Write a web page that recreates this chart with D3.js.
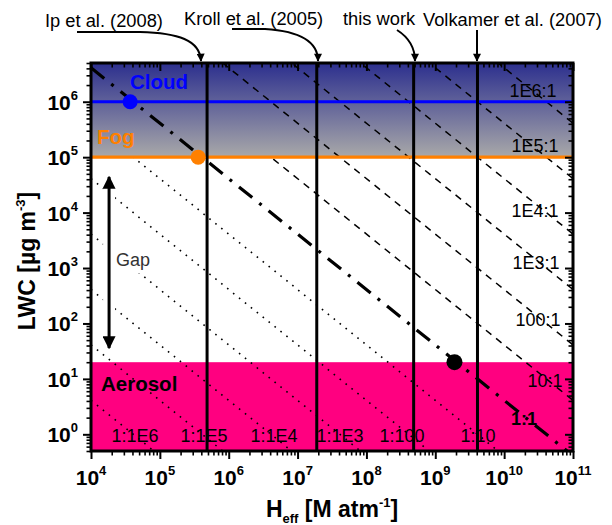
<!DOCTYPE html>
<html>
<head>
<meta charset="utf-8">
<script src="https://cdn.jsdelivr.net/npm/d3@7"></script>
<style>
  body { margin: 0; background: #fff; }
  svg { display: block; font-family: "Liberation Sans", Arial, sans-serif; }
</style>
</head>
<body>
<svg id="chart" width="612" height="525"></svg>
<script>
// Liquid water content vs. effective Henry's law constant, with iso-partitioning lines

const hRange = [1e4, 1e11];
const lwcRange = [0.5, 5e6];
const xMajor = [1e4, 1e5, 1e6, 1e7, 1e8, 1e9, 1e10, 1e11];
const xExponents = ["4", "5", "6", "7", "8", "9", "10", "11"];
const yMajor = [1, 10, 100, 1e3, 1e4, 1e5, 1e6];
const yExponents = ["0", "1", "2", "3", "4", "5", "6"];

// H_eff x LWC product at which the aqueous and gas phase hold equal amounts (1:1)
const unityProduct = 4.1e10;
const aqRatios = [1e6, 1e5, 1e4, 1e3, 100, 10];          // aqueous : gas > 1
const aqRatioLabels = ["1E6:1", "1E5:1", "1E4:1", "1E3:1", "100:1", "10:1"];
const gasRatios = [1e-6, 1e-5, 1e-4, 1e-3, 1e-2, 1e-1];  // aqueous : gas < 1
const gasRatioLabels = ["1:1E6", "1:1E5", "1:1E4", "1:1E3", "1:100", "1:10"];

const studies = ["Ip et al. (2008)", "Kroll et al. (2005)", "this work", "Volkamer et al. (2007)"];
const studyHeff = [4.85e5, 1.9e7, 4.85e8, 4.1e9];

const regimes = ["Cloud", "Fog", "Aerosol"];
const regimeLWC = [1e6, 1e5, 20];
const regimeHeff = [3.7e4, 3.6e5, 1.9e9];
const gapLWC = [4.4e4, 36];
const gapHeff = 1.83e4;

// ---- layout ----
const W = 612, H = 525;
const plot = { left: 91, right: 573, top: 63, bottom: 451 };
const svg = d3.select("#chart");

const x = d3.scaleLog().domain(hRange).range([plot.left, plot.right]);
const y = d3.scaleLog().domain(lwcRange).range([plot.bottom, plot.top]);

const defs = svg.append("defs");
const grad = defs.append("linearGradient")
  .attr("id", "cloudFog").attr("x1", 0).attr("y1", 0).attr("x2", 0).attr("y2", 1);
grad.append("stop").attr("offset", "0%").attr("stop-color", "#2c2f8e");
grad.append("stop").attr("offset", "100%").attr("stop-color", "#a9a9a9");

defs.append("clipPath").attr("id", "plotClip")
  .append("rect")
  .attr("x", plot.left).attr("y", plot.top)
  .attr("width", plot.right - plot.left).attr("height", plot.bottom - plot.top);

function arrowMarker(id, w, h) {
  defs.append("marker")
    .attr("id", id)
    .attr("viewBox", "0 0 10 10")
    .attr("refX", 9).attr("refY", 5)
    .attr("markerUnits", "userSpaceOnUse")
    .attr("markerWidth", w).attr("markerHeight", h)
    .attr("orient", "auto-start-reverse")
    .append("path").attr("d", "M0,0 L10,5 L0,10 Z").attr("fill", "#000");
}
arrowMarker("tip", 9, 8);
arrowMarker("gapTip", 13, 13);

const plotG = svg.append("g").attr("clip-path", "url(#plotClip)");

// aerosol regime
plotG.append("rect")
  .attr("x", plot.left).attr("width", plot.right - plot.left)
  .attr("y", y(regimeLWC[2])).attr("height", y(lwcRange[0]) - y(regimeLWC[2]))
  .attr("fill", "#ff0080");

const isoLine = d3.line().x(d => x(d[0])).y(d => y(d[1]));
const isoPoints = r => hRange.map(h => [h, r * unityProduct / h]);

const dashStyle = { stroke: "#000", width: 1.5, dash: "7,6" };
const dotStyle = { stroke: "#000", width: 1.6, dash: "1.6,6" };

// lines that sit beneath the cloud/fog shading
gasRatios.forEach(r => {
  plotG.append("path").attr("d", isoLine(isoPoints(r)))
    .attr("fill", "none").attr("stroke", dotStyle.stroke)
    .attr("stroke-width", dotStyle.width).attr("stroke-dasharray", dotStyle.dash);
});
plotG.append("path").attr("d", isoLine(isoPoints(aqRatios[5])))
  .attr("fill", "none").attr("stroke", dashStyle.stroke)
  .attr("stroke-width", dashStyle.width).attr("stroke-dasharray", dashStyle.dash);

// cloud + fog shading
plotG.append("rect")
  .attr("x", plot.left).attr("width", plot.right - plot.left)
  .attr("y", y(lwcRange[1])).attr("height", y(regimeLWC[1]) - y(lwcRange[1]))
  .attr("fill", "url(#cloudFog)");

aqRatios.slice(0, 5).forEach(r => {
  plotG.append("path").attr("d", isoLine(isoPoints(r)))
    .attr("fill", "none").attr("stroke", dashStyle.stroke)
    .attr("stroke-width", dashStyle.width).attr("stroke-dasharray", dashStyle.dash);
});

// 1:1 line
plotG.append("path").attr("d", isoLine(isoPoints(1)))
  .attr("fill", "none").attr("stroke", "#000")
  .attr("stroke-width", 3.2).attr("stroke-dasharray", "17,9,3,9");

// cloud and fog LWC levels
plotG.append("line")
  .attr("x1", plot.left).attr("x2", plot.right)
  .attr("y1", y(regimeLWC[0])).attr("y2", y(regimeLWC[0]))
  .attr("stroke", "#0000ff").attr("stroke-width", 3);
plotG.append("line")
  .attr("x1", plot.left).attr("x2", plot.right)
  .attr("y1", y(regimeLWC[1])).attr("y2", y(regimeLWC[1]))
  .attr("stroke", "#ff8000").attr("stroke-width", 3.2);

// H_eff values from the literature
studyHeff.forEach(h => {
  plotG.append("line")
    .attr("x1", x(h)).attr("x2", x(h))
    .attr("y1", plot.top).attr("y2", plot.bottom)
    .attr("stroke", "#000").attr("stroke-width", 3);
});

// regime points on the 1:1 line
const dotColors = ["#0000ff", "#ff8000", "#000"];
regimes.forEach((name, i) => {
  plotG.append("circle")
    .attr("cx", x(regimeHeff[i])).attr("cy", y(regimeLWC[i]))
    .attr("r", i === 2 ? 8 : 7.5).attr("fill", dotColors[i]);
});

// regime names
const labelG = svg.append("g").attr("font-weight", "bold").attr("font-size", 20.5);
labelG.append("text").attr("x", 130).attr("y", 89).attr("fill", "#0000ff").text(regimes[0]);
labelG.append("text").attr("x", 97).attr("y", 144).attr("fill", "#ff8000").text(regimes[1]);
labelG.append("text").attr("x", 101).attr("y", 391).attr("fill", "#000").text(regimes[2]);

// ratio labels
const aqLabelPos = [[533, 97], [535, 152], [535, 217], [536, 269], [538, 326], [545, 387]];
const gasLabelPos = [[135, 442], [204, 442], [274, 442], [340, 442], [402, 442], [478, 442]];
const ratioG = svg.append("g").attr("font-size", 18).attr("fill", "#000").attr("text-anchor", "middle");
aqRatioLabels.forEach((t, i) => {
  ratioG.append("text").attr("x", aqLabelPos[i][0]).attr("y", aqLabelPos[i][1]).text(t);
});
gasRatioLabels.forEach((t, i) => {
  ratioG.append("text").attr("x", gasLabelPos[i][0]).attr("y", gasLabelPos[i][1]).text(t);
});
ratioG.append("text").attr("x", 524).attr("y", 425).attr("font-weight", "bold").text("1:1");

// gap between fog and aerosol
const gx = x(gapHeff);
svg.append("line")
  .attr("x1", gx).attr("x2", gx)
  .attr("y1", y(gapLWC[0]) - 5).attr("y2", y(gapLWC[1]) + 5)
  .attr("stroke", "#fff").attr("stroke-width", 12);
svg.append("rect").attr("x", 113).attr("y", 249).attr("width", 42).attr("height", 24).attr("fill", "#fff");
svg.append("line")
  .attr("x1", gx).attr("x2", gx)
  .attr("y1", y(gapLWC[0])).attr("y2", y(gapLWC[1]))
  .attr("stroke", "#000").attr("stroke-width", 3)
  .attr("marker-start", "url(#gapTip)").attr("marker-end", "url(#gapTip)");
svg.append("text").attr("x", 116).attr("y", 266)
  .attr("font-size", 18).attr("fill", "#333").text("Gap");

// ---- axes ----
const allX = x.ticks().filter(v => v >= hRange[0] && v <= hRange[1]);
const allY = y.ticks().filter(v => v >= lwcRange[0] && v <= lwcRange[1]);
const isMajor = v => Math.abs(Math.log10(v) - Math.round(Math.log10(v))) < 1e-9;
const xMinor = allX.filter(v => !isMajor(v));
const yMinor = allY.filter(v => !isMajor(v));

function styleAxis(g, w) {
  g.select(".domain").remove();
  g.selectAll(".tick line").attr("stroke", "#000").attr("stroke-width", w);
}
const axG = svg.append("g");
axG.append("g").attr("transform", `translate(0,${plot.bottom})`)
  .call(d3.axisBottom(x).tickValues(xMajor).tickSize(8).tickFormat("")).call(g => styleAxis(g, 2));
axG.append("g").attr("transform", `translate(0,${plot.bottom})`)
  .call(d3.axisBottom(x).tickValues(xMinor).tickSize(4.5).tickFormat("")).call(g => styleAxis(g, 1.6));
axG.append("g").attr("transform", `translate(0,${plot.top})`)
  .call(d3.axisTop(x).tickValues(xMajor).tickSize(-8).tickFormat("")).call(g => styleAxis(g, 2));
axG.append("g").attr("transform", `translate(0,${plot.top})`)
  .call(d3.axisTop(x).tickValues(xMinor).tickSize(-4.5).tickFormat("")).call(g => styleAxis(g, 1.6));
axG.append("g").attr("transform", `translate(${plot.left},0)`)
  .call(d3.axisLeft(y).tickValues(yMajor).tickSize(8).tickFormat("")).call(g => styleAxis(g, 2));
axG.append("g").attr("transform", `translate(${plot.left},0)`)
  .call(d3.axisLeft(y).tickValues(yMinor).tickSize(4.5).tickFormat("")).call(g => styleAxis(g, 1.6));
axG.append("g").attr("transform", `translate(${plot.right},0)`)
  .call(d3.axisRight(y).tickValues(yMajor).tickSize(-8).tickFormat("")).call(g => styleAxis(g, 2));
axG.append("g").attr("transform", `translate(${plot.right},0)`)
  .call(d3.axisRight(y).tickValues(yMinor).tickSize(-4.5).tickFormat("")).call(g => styleAxis(g, 1.6));

axG.append("rect")
  .attr("x", plot.left).attr("y", plot.top)
  .attr("width", plot.right - plot.left).attr("height", plot.bottom - plot.top)
  .attr("fill", "none").attr("stroke", "#000").attr("stroke-width", 3);

function powerLabel(t, exp) {
  t.append("tspan").text("10");
  t.append("tspan").attr("font-size", 13).attr("dy", -10).text(exp);
}
const tickG = svg.append("g").attr("font-weight", "bold").attr("font-size", 21).attr("fill", "#000");
xMajor.forEach((v, i) => {
  tickG.append("text").attr("x", x(v)).attr("y", 485).attr("text-anchor", "middle")
    .call(t => powerLabel(t, xExponents[i]));
});
yMajor.forEach((v, i) => {
  tickG.append("text").attr("x", 78).attr("y", y(v) + 8).attr("text-anchor", "end")
    .call(t => powerLabel(t, yExponents[i]));
});

// axis titles
const xt = svg.append("text").attr("x", (plot.left + plot.right) / 2).attr("y", 517)
  .attr("text-anchor", "middle").attr("font-weight", "bold").attr("font-size", 23);
xt.append("tspan").text("H");
xt.append("tspan").attr("font-size", 13).attr("dy", 6).text("eff");
xt.append("tspan").attr("dy", -6).text(" [M atm");
xt.append("tspan").attr("font-size", 13).attr("dy", -10).text("-1");
xt.append("tspan").attr("dy", 10).text("]");

const yt = svg.append("text").attr("transform", "translate(35,261) rotate(-90)")
  .attr("text-anchor", "middle").attr("font-weight", "bold").attr("font-size", 23);
yt.append("tspan").text("LWC [\u00b5g m");
yt.append("tspan").attr("font-size", 13).attr("dy", -10).text("-3");
yt.append("tspan").attr("dy", 10).text("]");

// literature annotations
const notePos = [[45, 27], [184, 25], [343, 25], [423, 26]];
const notePaths = [
  "M77,32 L140,32 C178,33 200,40 201,61",
  "M232,29 L265,29 C298,31 318,40 318,61",
  "M397,30 C408,37 415,46 415,61",
  "M477,30 L477,61"
];
const noteG = svg.append("g");
studies.forEach((s, i) => {
  noteG.append("text").attr("x", notePos[i][0]).attr("y", notePos[i][1])
    .attr("font-size", 18.3).attr("fill", "#000").text(s);
  noteG.append("path").attr("d", notePaths[i])
    .attr("fill", "none").attr("stroke", "#000").attr("stroke-width", 2)
    .attr("marker-end", "url(#tip)");
});
</script>
</body>
</html>
